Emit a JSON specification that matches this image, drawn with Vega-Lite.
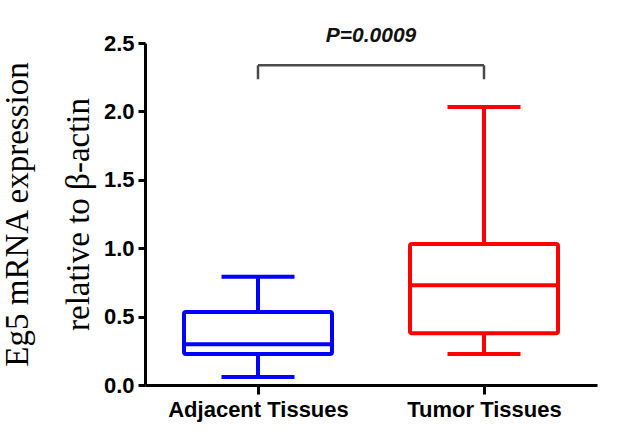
{
  "$schema": "https://vega.github.io/schema/vega-lite/v6.json",
  "autosize": "none",
  "width": 452,
  "height": 342,
  "padding": {"left": 145, "top": 43, "right": 28, "bottom": 59},
  "background": "white",
  "config": {
    "view": {"stroke": null},
    "axis": {"grid": false, "domainColor": "black", "domainWidth": 3, "tickColor": "black", "tickWidth": 3, "labelColor": "black", "labelFont": "Liberation Sans", "labelFontWeight": "bold", "labelFontSize": 22, "labelLimit": 0}
  },
  "datasets": {
    "boxes": [
      {"group": "Adjacent Tissues", "min": 0.058, "q1": 0.226, "median": 0.297, "q3": 0.533, "max": 0.791},
      {"group": "Tumor Tissues", "min": 0.226, "q1": 0.378, "median": 0.730, "q3": 1.03, "max": 2.033}
    ],
    "bracket": [
      {"left": "Adjacent Tissues", "right": "Tumor Tissues", "top": 2.337}
    ],
    "drops": [
      {"group": "Adjacent Tissues", "bottom": 2.235, "top": 2.337},
      {"group": "Tumor Tissues", "bottom": 2.235, "top": 2.337}
    ],
    "label": [
      {"text": "P=0.0009", "y": 2.55}
    ]
  },
  "layer": [
    {
      "data": {"name": "boxes"},
      "mark": {"type": "rule", "strokeWidth": 4},
      "encoding": {
        "x": {"field": "group", "type": "nominal", "scale": {"type": "point", "padding": 0.5, "domain": ["Adjacent Tissues", "Tumor Tissues"]},
          "axis": {"title": null, "labelAngle": 0, "tickSize": 9, "labelPadding": 5, "domain": true}},
        "y": {"field": "min", "type": "quantitative", "scale": {"domain": [0, 2.5], "nice": false, "zero": false},
          "axis": {"values": [0, 0.5, 1, 1.5, 2, 2.5], "format": ".1f", "tickSize": 7, "labelPadding": 4,
            "title": ["Eg5 mRNA expression", "relative to β-actin"],
            "titleFont": "Liberation Serif", "titleFontSize": 33, "titleFontWeight": "normal", "titleColor": "black",
            "titleAngle": -90, "titleAlign": "center", "titleBaseline": "alphabetic", "titleLineHeight": 61,
            "titleX": -118, "titleY": 171}},
        "y2": {"field": "max"},
        "color": {"field": "group", "type": "nominal", "scale": {"domain": ["Adjacent Tissues", "Tumor Tissues"], "range": ["#0000FF", "#FF0000"]}, "legend": null}
      }
    },
    {
      "data": {"name": "boxes"},
      "mark": {"type": "bar", "width": 148, "fill": "white", "strokeWidth": 4, "cornerRadius": 2},
      "encoding": {
        "x": {"field": "group", "type": "nominal"},
        "y": {"field": "q1", "type": "quantitative"},
        "y2": {"field": "q3"},
        "stroke": {"field": "group", "type": "nominal", "scale": {"domain": ["Adjacent Tissues", "Tumor Tissues"], "range": ["#0000FF", "#FF0000"]}, "legend": null}
      }
    },
    {
      "data": {"name": "boxes"},
      "mark": {"type": "tick", "size": 148, "thickness": 4, "opacity": 1},
      "encoding": {
        "x": {"field": "group", "type": "nominal"},
        "y": {"field": "median", "type": "quantitative"},
        "color": {"field": "group", "type": "nominal", "legend": null}
      }
    },
    {
      "data": {"name": "boxes"},
      "mark": {"type": "tick", "size": 73, "thickness": 4, "opacity": 1},
      "encoding": {
        "x": {"field": "group", "type": "nominal"},
        "y": {"field": "max", "type": "quantitative"},
        "color": {"field": "group", "type": "nominal", "legend": null}
      }
    },
    {
      "data": {"name": "boxes"},
      "mark": {"type": "tick", "size": 73, "thickness": 4, "opacity": 1},
      "encoding": {
        "x": {"field": "group", "type": "nominal"},
        "y": {"field": "min", "type": "quantitative"},
        "color": {"field": "group", "type": "nominal", "legend": null}
      }
    },
    {
      "data": {"name": "bracket"},
      "mark": {"type": "rule", "color": "#4a4a4a", "strokeWidth": 2.5},
      "encoding": {
        "x": {"field": "left", "type": "nominal"},
        "x2": {"field": "right"},
        "y": {"field": "top", "type": "quantitative"}
      }
    },
    {
      "data": {"name": "drops"},
      "mark": {"type": "rule", "color": "#4a4a4a", "strokeWidth": 2.5},
      "encoding": {
        "x": {"field": "group", "type": "nominal"},
        "y": {"field": "bottom", "type": "quantitative"},
        "y2": {"field": "top"}
      }
    },
    {
      "data": {"name": "label"},
      "mark": {"type": "text", "font": "Liberation Sans", "fontWeight": "bold", "fontStyle": "italic", "fontSize": 21, "color": "#111", "baseline": "middle", "align": "center", "clip": false},
      "encoding": {
        "y": {"field": "y", "type": "quantitative"},
        "text": {"field": "text", "type": "nominal"}
      }
    }
  ],
  "resolve": {"scale": {"color": "shared"}}
}
